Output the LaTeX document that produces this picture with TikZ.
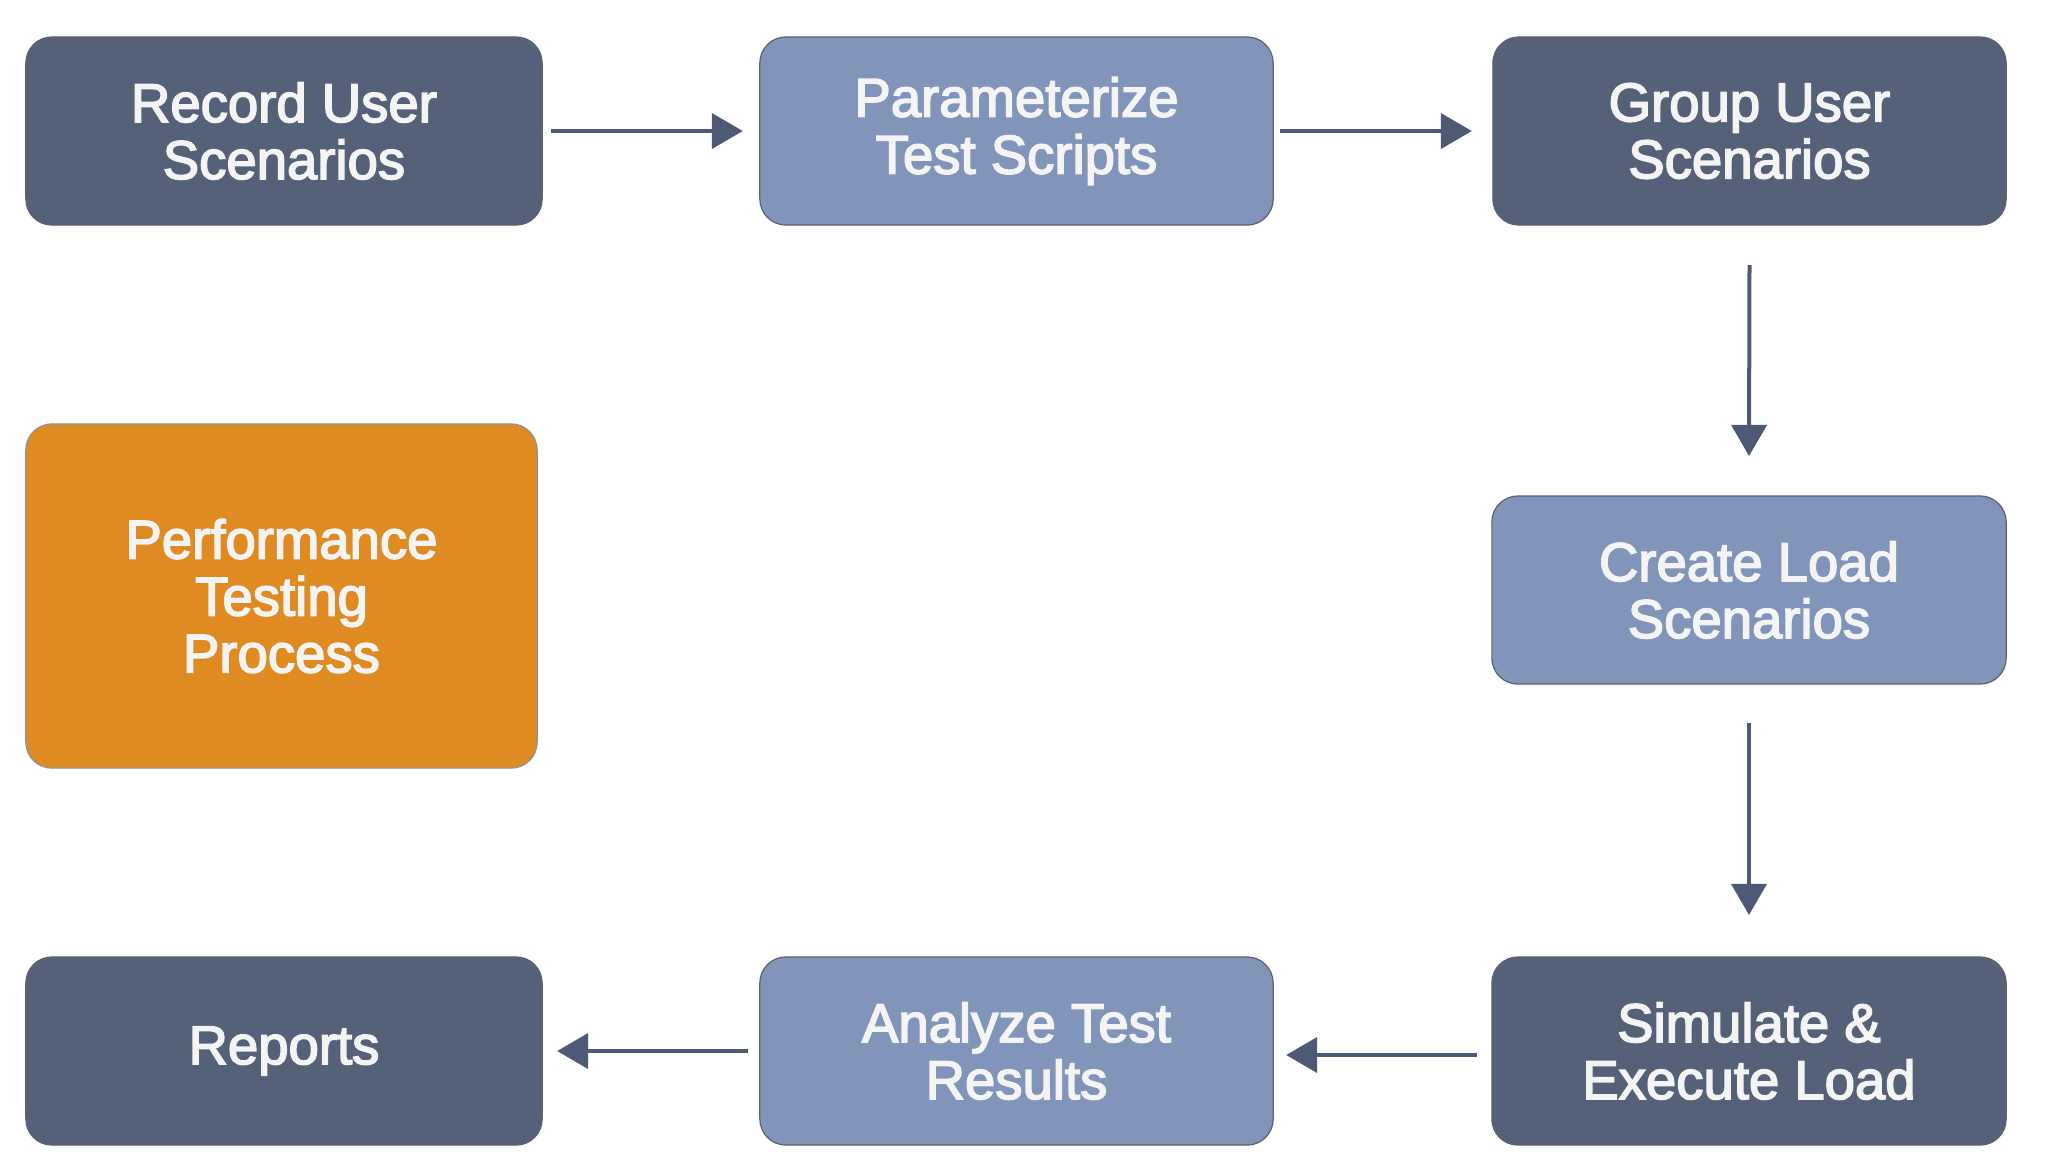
\documentclass[tikz,border=0pt]{standalone}
\usepackage{fontspec}
\setmainfont{Liberation Sans}
\newfontfamily\boxfont{Liberation Sans}
\newcommand\heavytext{\special{pdf:literal direct 2 Tr 0.45 w}}
\usetikzlibrary{arrows.meta}
\definecolor{darkbox}{HTML}{556179}
\definecolor{lightbox}{HTML}{8194B9}
\definecolor{orangebox}{HTML}{E08A22}
\definecolor{arrowcol}{HTML}{4E5A75}
\definecolor{txtcol}{HTML}{F4F4F4}
\definecolor{edgecol}{HTML}{5F6270}
\tikzset{
  stepbox/.style={rounded corners=0.26cm, inner sep=0pt, outer sep=0pt,
    minimum width=5.14cm, minimum height=1.88cm, align=center,
    text=txtcol, draw=edgecol, line width=0.35pt,
    font=\boxfont\fontsize{15.5pt}{16.2pt}\selectfont},
  darkstep/.style={stepbox, fill=darkbox},
  lightstep/.style={stepbox, fill=lightbox},
  orangestep/.style={stepbox, fill=orangebox, minimum width=5.11cm, minimum height=3.44cm, draw=edgecol!70},
  arr/.style={draw=arrowcol, line width=0.04cm, -{Triangle[length=0.31cm,width=0.35cm]}}
}
\newcommand\boxtext[1]{\heavytext\raisebox{0.03cm}{\begin{tabular}{@{}c@{}}#1\end{tabular}}}
\begin{document}
\begin{tikzpicture}[x=0.01cm,y=-0.01cm]
\useasboundingbox[fill=white] (0,0) rectangle (2048,1153);
\node[darkstep, minimum width=5.16cm] (rec) at (284,131) {\heavytext Record User\\\heavytext Scenarios};
\node[lightstep, minimum width=5.13cm] (par) at (1016.5,131) {\heavytext Parameterize\\\heavytext Test Scripts};
\node[darkstep, minimum width=5.13cm] (grp) at (1749.5,131) {\heavytext Group User\\\heavytext Scenarios};
\node[lightstep] (cre) at (1749,590) {\heavytext Create Load\\\heavytext Scenarios};
\node[darkstep] (sim) at (1749,1051) {\heavytext Simulate \&\\\heavytext Execute Load};
\node[lightstep, minimum width=5.13cm] (ana) at (1016.5,1051) {\heavytext Analyze Test\\\heavytext Results};
\node[darkstep, minimum width=5.16cm] (rep) at (284,1051) {\heavytext Reports};
\node[orangestep] (perf) at (281.5,596) {\heavytext Performance\\\heavytext Testing\\\heavytext Process};
\draw[arr] ([xshift=0.09cm]rec.east) -- ([xshift=-0.17cm]par.west);
\draw[arr] ([xshift=0.07cm]par.east) -- ([xshift=-0.21cm]grp.west);
\draw[arr] ([yshift=-0.40cm]grp.south) -- ([yshift=0.40cm]cre.north);
\draw[arr] ([yshift=-0.39cm]cre.south) -- ([yshift=0.42cm]sim.north);
\draw[arr] ([xshift=-0.15cm,yshift=-0.04cm]sim.west) -- ([xshift=0.13cm,yshift=-0.04cm]ana.east);
\draw[arr] ([xshift=-0.12cm]ana.west) -- ([xshift=0.15cm]rep.east);
\end{tikzpicture}
\end{document}
